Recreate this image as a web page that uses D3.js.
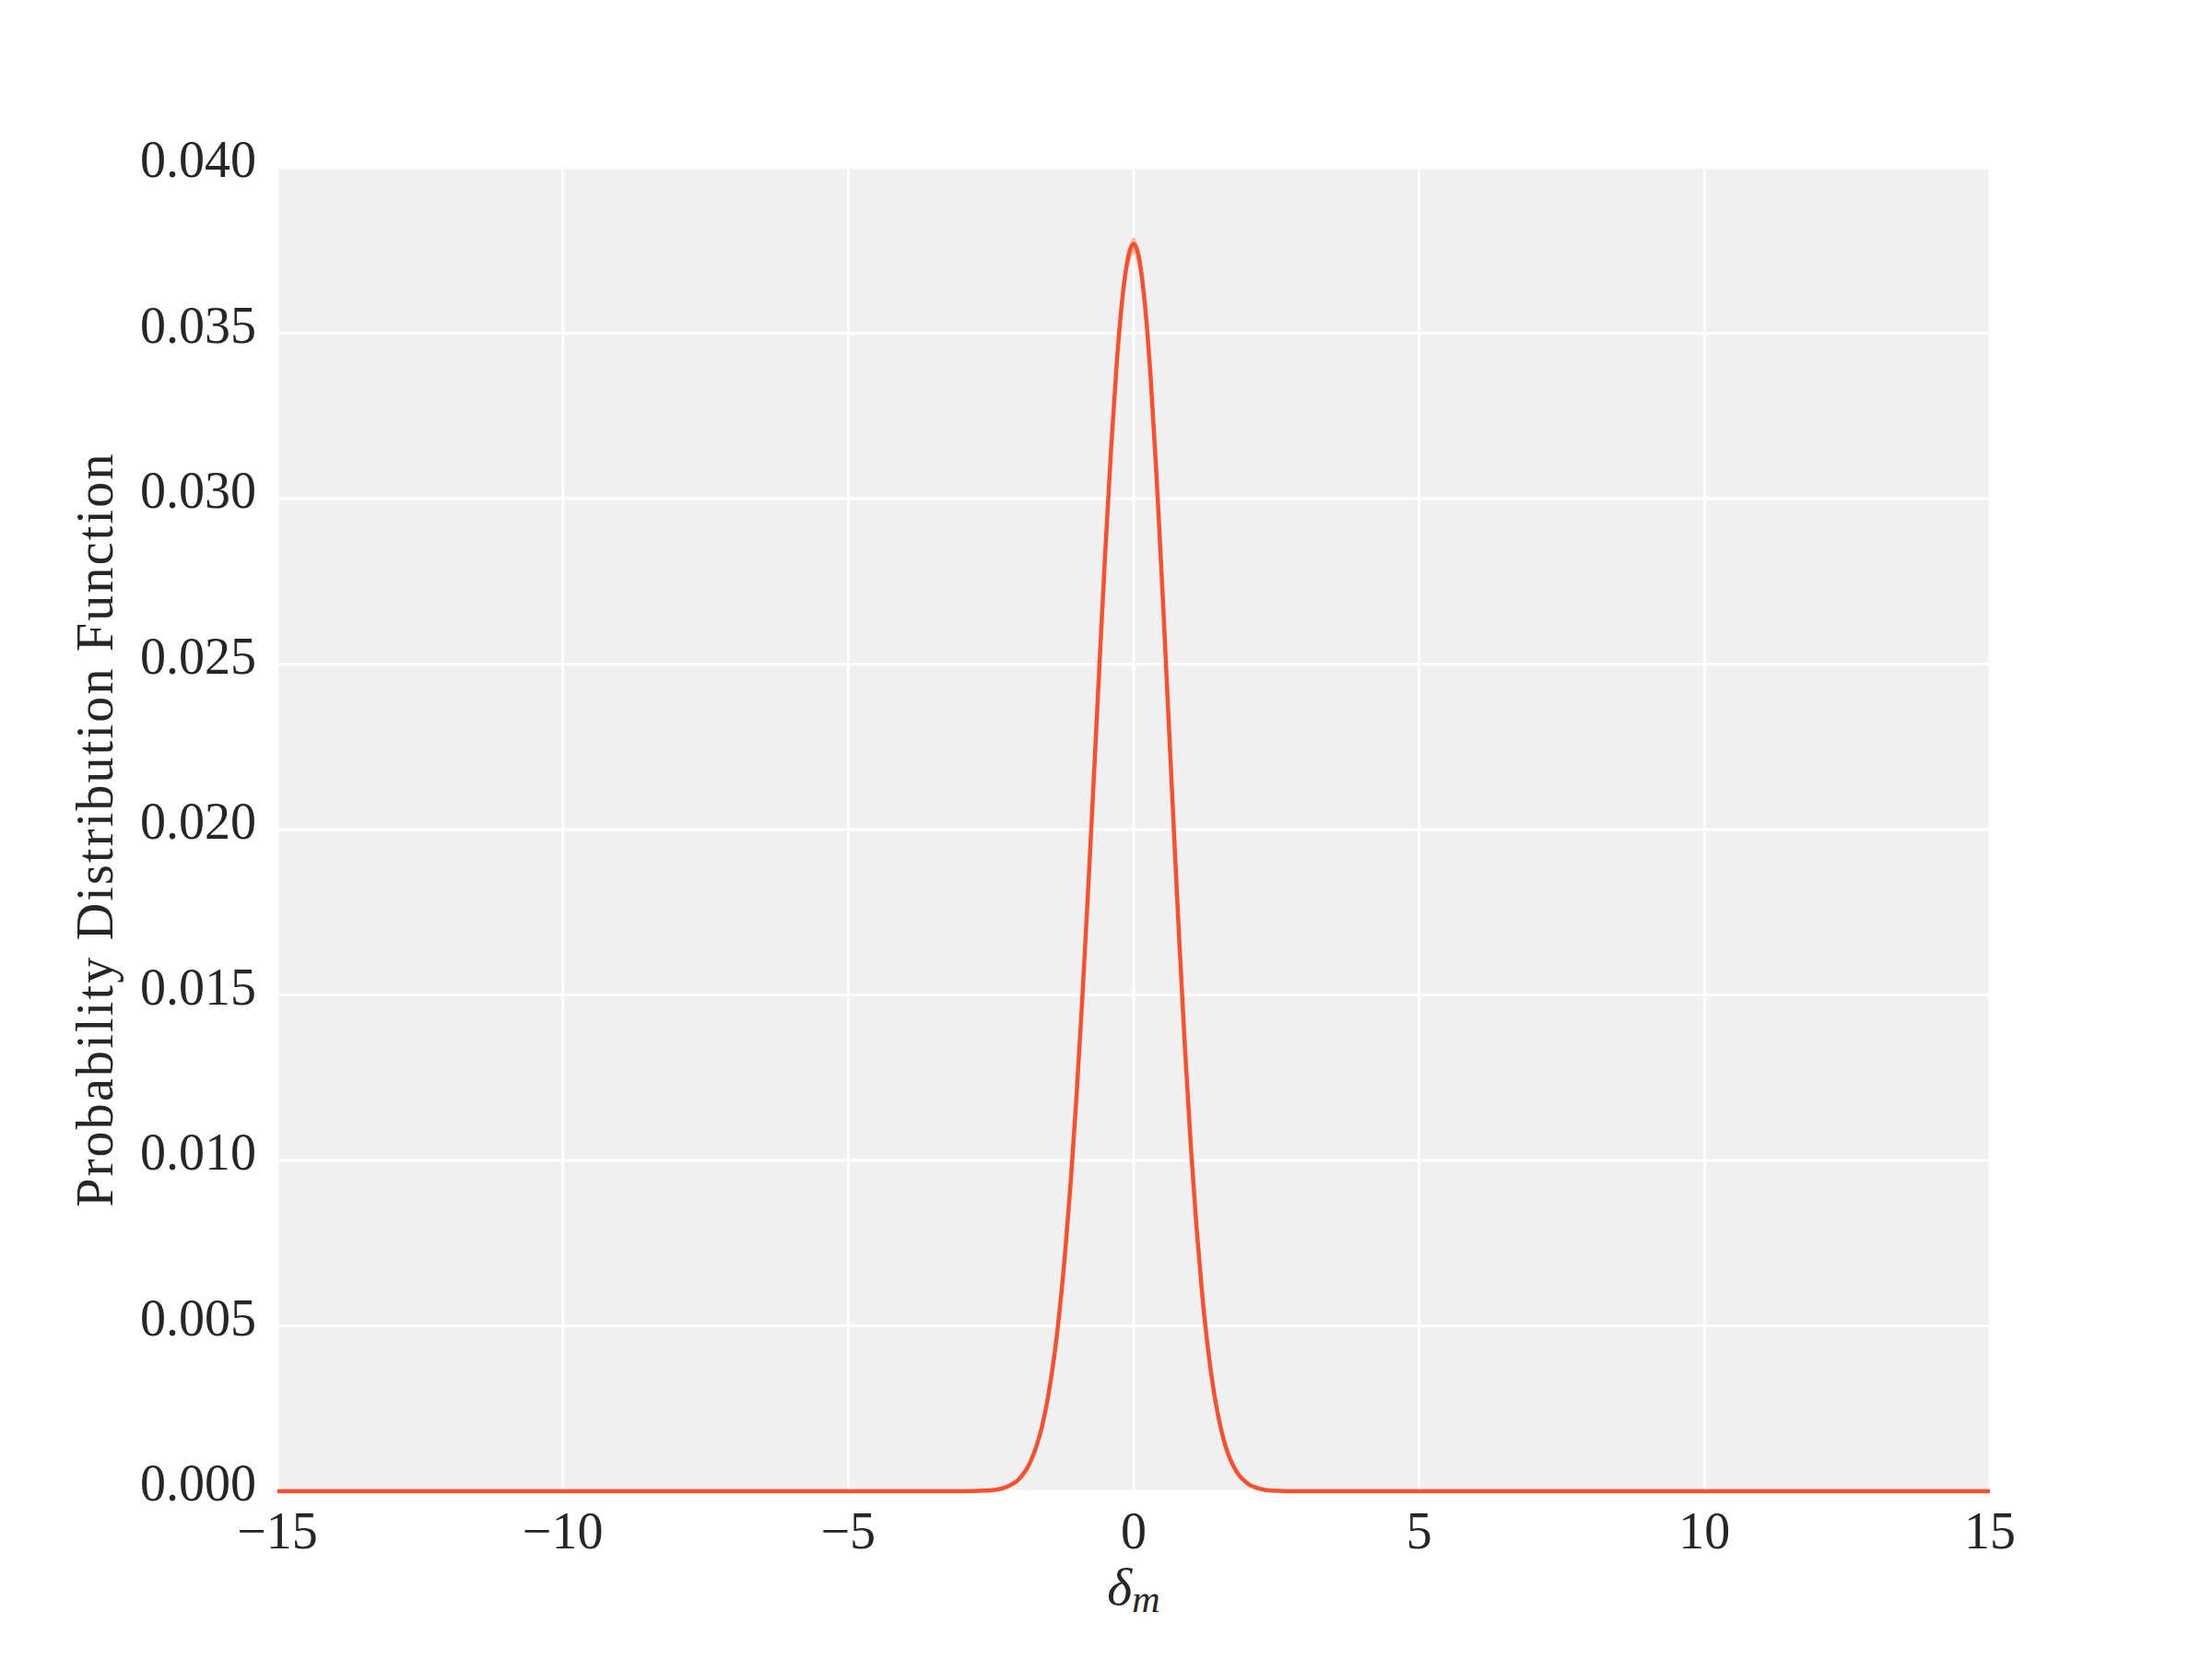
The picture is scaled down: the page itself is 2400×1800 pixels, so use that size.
<!DOCTYPE html>
<html>
<head>
<meta charset="utf-8">
<script src="https://cdn.jsdelivr.net/npm/d3@7"></script>
<style>
  body { margin: 0; background: #fff; }
  text { font-family: "Liberation Serif", "DejaVu Serif", serif; fill: #262626; }
</style>
</head>
<body>
<svg id="chart"></svg>
<script>
// Data
const deltaM = [-15, -4, -3, -2.6, -2.4, -2.2, -2.0, -1.8, -1.6, -1.5, -1.4, -1.3, -1.2, -1.1, -1.0,
  -0.9, -0.8, -0.7, -0.6, -0.5, -0.4, -0.3, -0.2, -0.1, 0, 0.1, 0.2, 0.3, 0.4, 0.5, 0.6, 0.7,
  0.8, 0.9, 1.0, 1.1, 1.2, 1.3, 1.4, 1.5, 1.6, 1.8, 2.0, 2.2, 2.4, 2.6, 3, 4, 15];
const pdf = [0, 0, 0, 0.00002, 0.00005, 0.00015, 0.00038, 0.00092, 0.00200, 0.00285, 0.00397, 0.00542, 0.00722, 0.00940, 0.01196,
  0.01488, 0.01808, 0.02148, 0.02494, 0.02830, 0.03137, 0.03400, 0.03601, 0.03727, 0.03770, 0.03722, 0.03582, 0.03360, 0.03072, 0.02738, 0.02378, 0.02014,
  0.01662, 0.01337, 0.01048, 0.00801, 0.00597, 0.00433, 0.00307, 0.00212, 0.00142, 0.00060, 0.00023, 0.00008, 0.00002, 0.00001, 0, 0, 0];

// faint uncertainty band, only visible near the peak
const bandX = [-0.3, -0.2, -0.1, 0, 0.1, 0.2, 0.3];
const bandLow = [0.0339, 0.0358, 0.0369, 0.0374, 0.0368, 0.0356, 0.0335];
const bandHigh = [0.0341, 0.0362, 0.0375, 0.0379, 0.0375, 0.0360, 0.0337];

const xTicks = [-15, -10, -5, 0, 5, 10, 15];
const yTicks = [0, 0.005, 0.010, 0.015, 0.020, 0.025, 0.030, 0.035, 0.040];

const W = 2400, H = 1800;
const M = { top: 182, right: 241, bottom: 182, left: 301 };
const FS = 56;

const svg = d3.select("#chart").attr("width", W).attr("height", H);

const x = d3.scaleLinear().domain([-15, 15]).range([M.left, W - M.right]);
const y = d3.scaleLinear().domain([0, 0.04]).range([H - M.bottom, M.top]);

// Plot background
svg.append("rect")
  .attr("x", x(-15)).attr("y", y(0.04))
  .attr("width", x(15) - x(-15)).attr("height", y(0) - y(0.04))
  .attr("fill", "#f0f0f0");

// Grid
const grid = svg.append("g").attr("stroke", "#fff").attr("stroke-width", 3);
grid.selectAll(".gx").data(xTicks).enter().append("line")
  .attr("x1", d => x(d)).attr("x2", d => x(d))
  .attr("y1", y(0)).attr("y2", y(0.04));
grid.selectAll(".gy").data(yTicks).enter().append("line")
  .attr("x1", x(-15)).attr("x2", x(15))
  .attr("y1", d => y(d)).attr("y2", d => y(d));

// Tick labels
const fmtX = d => (d < 0 ? "\u2212" + Math.abs(d) : String(d));
svg.append("g").selectAll("text").data(xTicks).enter().append("text")
  .attr("x", d => x(d)).attr("y", y(0) + 62)
  .attr("text-anchor", "middle").attr("font-size", FS)
  .text(fmtX);

svg.append("g").selectAll("text").data(yTicks).enter().append("text")
  .attr("x", x(-15) - 23).attr("y", d => y(d) + 10)
  .attr("text-anchor", "end").attr("font-size", FS)
  .text(d3.format(".3f"));

// Axis labels
const xl = svg.append("text")
  .attr("x", x(0)).attr("y", 1741)
  .attr("text-anchor", "middle").attr("font-size", 58)
  .attr("font-style", "italic");
xl.append("tspan").text("\u03b4");
xl.append("tspan").attr("font-size", 42).attr("dy", 8).text("m");

svg.append("text")
  .attr("transform", `translate(122,${(y(0) + y(0.04)) / 2}) rotate(-90)`)
  .attr("text-anchor", "middle").attr("font-size", FS)
  .attr("letter-spacing", 2.2)
  .text("Probability Distribution Function");

// Band + curve
const band = bandX.map((d, i) => ({ x: d, lo: bandLow[i], hi: bandHigh[i] }));
svg.append("path")
  .datum(band)
  .attr("fill", "#fdb38a").attr("opacity", 0.85)
  .attr("d", d3.area().x(d => x(d.x)).y0(d => y(d.lo)).y1(d => y(d.hi)).curve(d3.curveCatmullRom));

const pts = deltaM.map((d, i) => ({ x: d, y: pdf[i] }));
svg.append("path")
  .datum(pts)
  .attr("fill", "none").attr("stroke", "#fc4f30").attr("stroke-width", 4.5)
  .attr("stroke-linejoin", "round")
  .attr("d", d3.line().x(d => x(d.x)).y(d => y(d.y)).curve(d3.curveMonotoneX));
</script>
</body>
</html>
